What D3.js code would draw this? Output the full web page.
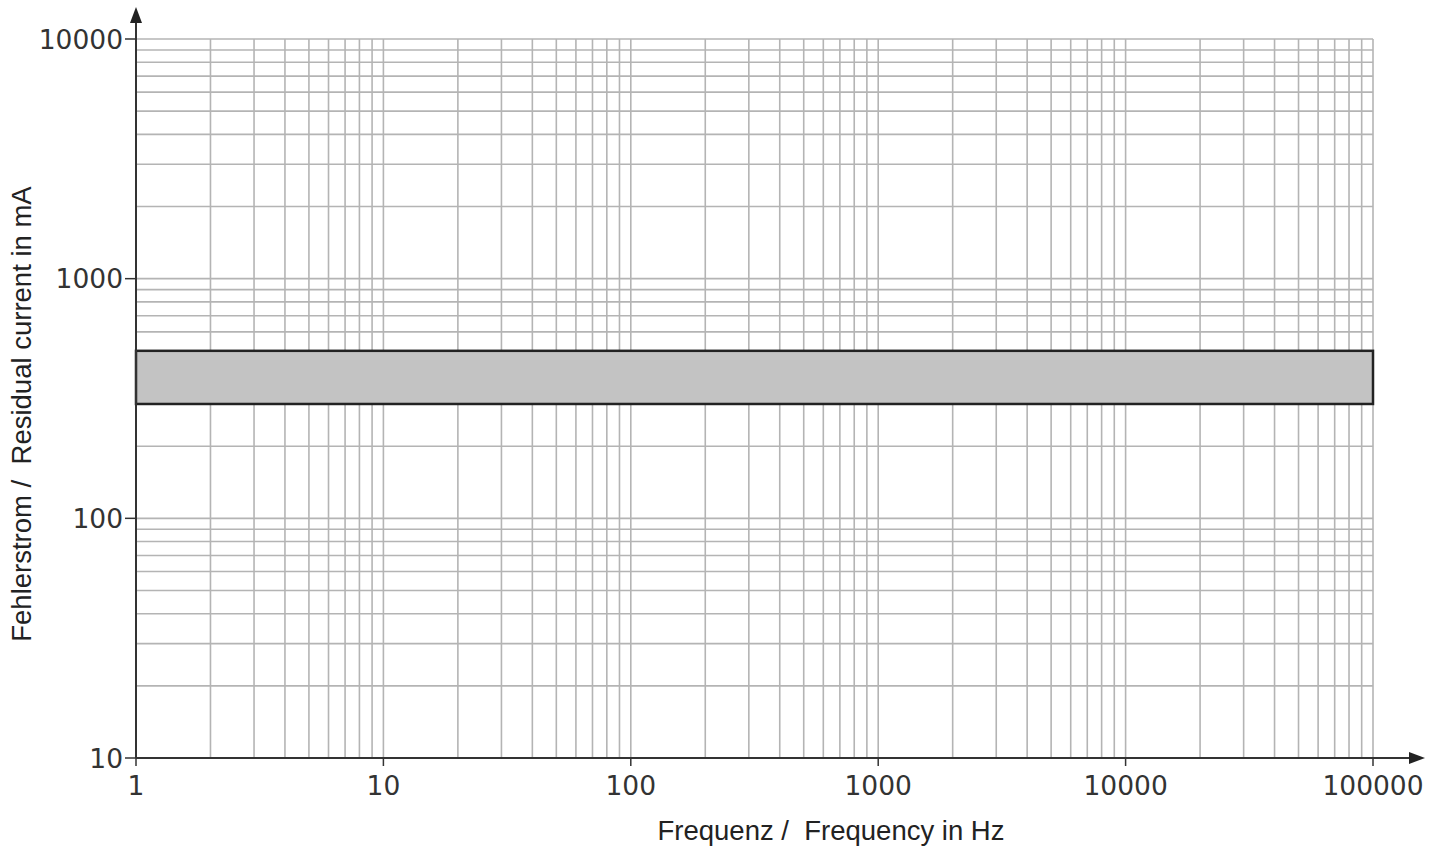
<!DOCTYPE html>
<html><head><meta charset="utf-8">
<script src="https://cdn.jsdelivr.net/npm/d3@7"></script>
<style>body{margin:0;background:#fff}svg{display:block}</style>
</head><body>
<script>
const xTickValues = [1, 10, 100, 1000, 10000, 100000];
const xTickLabels = ["1", "10", "100", "1000", "10000", "100000"];
const yTickValues = [10, 100, 1000, 10000];
const yTickLabels = ["10", "100", "1000", "10000"];
const bandLow = [300];
const bandHigh = [500];
const xTitle = "Frequenz /  Frequency in Hz";
const yTitle = "Fehlerstrom /  Residual current in mA";

const W = 1445, H = 851;
const svg = d3.select("body").append("svg").attr("width", W).attr("height", H);
const x = d3.scaleLog().domain([1, 100000]).range([136, 1373]);
const y = d3.scaleLog().domain([10, 10000]).range([758, 39]);

// grid
const xs = [], ys = [];
for (let d = 1; d < 100000; d *= 10) for (let k = 1; k <= 9; k++) xs.push(d * k);
xs.push(100000);
for (let d = 10; d < 10000; d *= 10) for (let k = 1; k <= 9; k++) ys.push(d * k);
ys.push(10000);
const grid = svg.append("g").attr("stroke", "#b4b4b4").attr("stroke-width", 1.6);
grid.selectAll("line.v").data(xs.filter(v => v > 1)).join("line")
  .attr("x1", d => x(d)).attr("x2", d => x(d)).attr("y1", y(10000)).attr("y2", y(10));
grid.selectAll("line.h").data(ys.filter(v => v > 10)).join("line")
  .attr("y1", d => y(d)).attr("y2", d => y(d)).attr("x1", x(1)).attr("x2", x(100000));

// band
svg.append("rect").attr("x", x(1)).attr("width", x(100000) - x(1))
  .attr("y", y(bandHigh[0])).attr("height", y(bandLow[0]) - y(bandHigh[0]))
  .attr("fill", "#c3c3c3").attr("stroke", "#222").attr("stroke-width", 2.5);

// axes
const axisColor = "#333";
const fontFam = "'DejaVu Sans', 'Liberation Sans', sans-serif";
svg.append("line").attr("x1", x(1)).attr("x2", 1412).attr("y1", y(10)).attr("y2", y(10))
  .attr("stroke", axisColor).attr("stroke-width", 2);
svg.append("path").attr("d", `M1425,${y(10)} L1409,${y(10)-6} L1409,${y(10)+6} Z`).attr("fill", "#222");
svg.append("line").attr("x1", x(1)).attr("x2", x(1)).attr("y1", y(10)).attr("y2", 20)
  .attr("stroke", axisColor).attr("stroke-width", 2);
svg.append("path").attr("d", `M${x(1)},7 L${x(1)-6},23 L${x(1)+6},23 Z`).attr("fill", "#222");

// y ticks
svg.selectAll("line.yt").data(yTickValues).join("line")
  .attr("x1", x(1) - 11).attr("x2", x(1)).attr("y1", d => y(d)).attr("y2", d => y(d))
  .attr("stroke", axisColor).attr("stroke-width", 1.5);
svg.selectAll("text.yl").data(yTickValues).join("text")
  .attr("x", x(1) - 13).attr("y", d => y(d)).attr("dy", "0.36em")
  .attr("text-anchor", "end").attr("font-family", fontFam).attr("font-size", 26.5)
  .attr("fill", "#333").text((d, i) => yTickLabels[i]);

// x ticks
svg.selectAll("line.xt").data(xTickValues).join("line")
  .attr("x1", d => x(d)).attr("x2", d => x(d)).attr("y1", y(10)).attr("y2", y(10) + 8)
  .attr("stroke", axisColor).attr("stroke-width", 1.5);
svg.selectAll("text.xl").data(xTickValues).join("text")
  .attr("x", d => x(d)).attr("y", 795)
  .attr("text-anchor", "middle").attr("font-family", fontFam).attr("font-size", 26.5)
  .attr("fill", "#333").text((d, i) => xTickLabels[i]);

// titles
svg.append("text").attr("x", 831).attr("y", 840).attr("text-anchor", "middle")
  .attr("font-family", "'Liberation Sans', Arial, sans-serif").attr("font-size", 27.5)
  .attr("fill", "#222").style("white-space", "pre").text(xTitle);
svg.append("text").attr("transform", "translate(31,414) rotate(-90)").attr("text-anchor", "middle")
  .attr("font-family", "'Liberation Sans', Arial, sans-serif").attr("font-size", 27.5)
  .attr("fill", "#222").style("white-space", "pre").text(yTitle);
</script>
</body></html>
